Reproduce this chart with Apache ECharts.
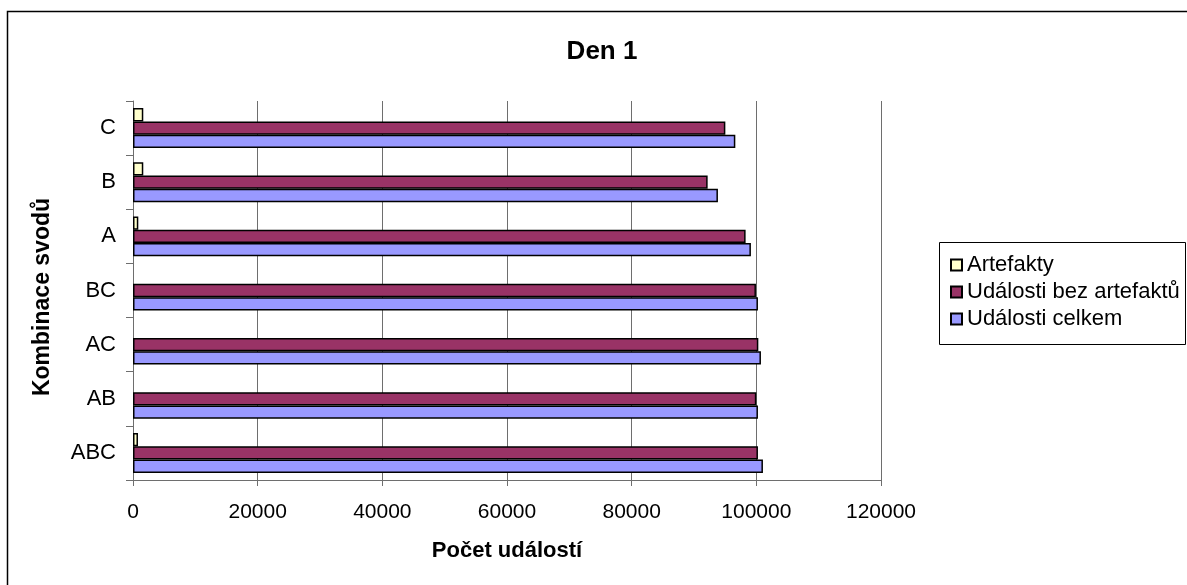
<!DOCTYPE html>
<html>
<head>
<meta charset="utf-8">
<script src="https://cdn.jsdelivr.net/npm/echarts@6/dist/echarts.min.js"></script>
<style>
  html, body { margin: 0; padding: 0; background: #fff; }
  #chart { width: 1187px; height: 585px; }
</style>
</head>
<body>
<div id="chart"></div>
<script>
// Electrode combinations, bottom to top
const categories = ['ABC', 'AB', 'AC', 'BC', 'A', 'B', 'C'];
// Event counts per combination
const artefakty = [800, 0, 0, 0, 850, 1650, 1650];
const udalostiBezArtefaktu = [100260, 100000, 100320, 99940, 98280, 92190, 95030];
const udalostiCelkem = [101060, 100260, 100740, 100260, 99130, 93840, 96630];
const xTicks = { min: 0, max: 120000, interval: 20000 };

const FONT = '"Liberation Sans", Arial, sans-serif';
const chart = echarts.init(document.getElementById('chart'));

// a zero-length bar should leave no outline behind
const noEmptyOutline = arr => arr.map(v => v === 0 ? { value: v, itemStyle: { borderWidth: 0 } } : v);

const barStyle = color => ({ color: color, borderColor: '#000', borderWidth: 1.5 });

chart.setOption({
  animation: false,
  backgroundColor: '#fff',
  textStyle: { fontFamily: FONT },
  grid: { left: 133, right: 306, top: 101, bottom: 105, containLabel: false },
  legend: {
    orient: 'vertical',
    left: 950,
    top: 254,
    padding: 0,
    itemWidth: 11,
    itemHeight: 11,
    itemGap: 5,
    icon: 'rect',
    textStyle: { fontFamily: FONT, fontSize: 22, color: '#000', lineHeight: 21 },
    data: ['Artefakty', 'Události bez artefaktů', 'Události celkem']
  },
  xAxis: {
    type: 'value',
    min: xTicks.min,
    max: xTicks.max,
    interval: xTicks.interval,
    axisLine: { show: true, lineStyle: { color: '#6e6e6e', width: 1 } },
    axisTick: { show: true, length: 6, lineStyle: { color: '#6e6e6e' } },
    axisLabel: { fontFamily: FONT, fontSize: 21, color: '#000', margin: 22,
                 formatter: v => String(v) },
    splitLine: { show: true, lineStyle: { color: '#6e6e6e', width: 1 } }
  },
  yAxis: {
    type: 'category',
    data: categories,
    axisLine: { show: true, lineStyle: { color: '#6e6e6e', width: 1 } },
    axisTick: { show: true, length: 7, alignWithLabel: false, lineStyle: { color: '#6e6e6e' } },
    axisLabel: { fontFamily: FONT, fontSize: 22, color: '#000', margin: 17 },
    splitLine: { show: false }
  },
  series: [
    {
      name: 'Artefakty', type: 'bar', barWidth: 13.3, barGap: '0%',
      itemStyle: barStyle('#FFFFCC'), data: noEmptyOutline(artefakty)
    },
    {
      name: 'Události bez artefaktů', type: 'bar', barWidth: 13.3, barGap: '0%',
      itemStyle: barStyle('#993366'), data: udalostiBezArtefaktu
    },
    {
      name: 'Události celkem', type: 'bar', barWidth: 13.3, barGap: '0%',
      itemStyle: barStyle('#9999FF'), data: udalostiCelkem
    }
  ],
  graphic: [
    // chart frame
    { type: 'rect', shape: { x: 7.5, y: 11.5, width: 1300, height: 700 },
      style: { fill: null, stroke: '#000', lineWidth: 1.5 }, silent: true, z: 0 },
    // legend frame
    { type: 'rect', shape: { x: 939.5, y: 242.5, width: 246, height: 102 },
      style: { fill: '#fff', stroke: '#000', lineWidth: 1 }, silent: true, z: 0 },
    { type: 'text', x: 602, y: 52,
      style: { text: 'Den 1', font: 'bold 26px ' + FONT, fill: '#000', textAlign: 'center', textVerticalAlign: 'middle' } },
    { type: 'text', x: 507, y: 551,
      style: { text: 'Počet událostí', font: 'bold 22px ' + FONT, fill: '#000', textAlign: 'center', textVerticalAlign: 'middle' } },
    { type: 'text', x: 43, y: 297, rotation: Math.PI / 2,
      style: { text: 'Kombinace svodů', font: 'bold 23px ' + FONT, fill: '#000', textAlign: 'center', textVerticalAlign: 'middle' } }
  ]
});
</script>
</body>
</html>
